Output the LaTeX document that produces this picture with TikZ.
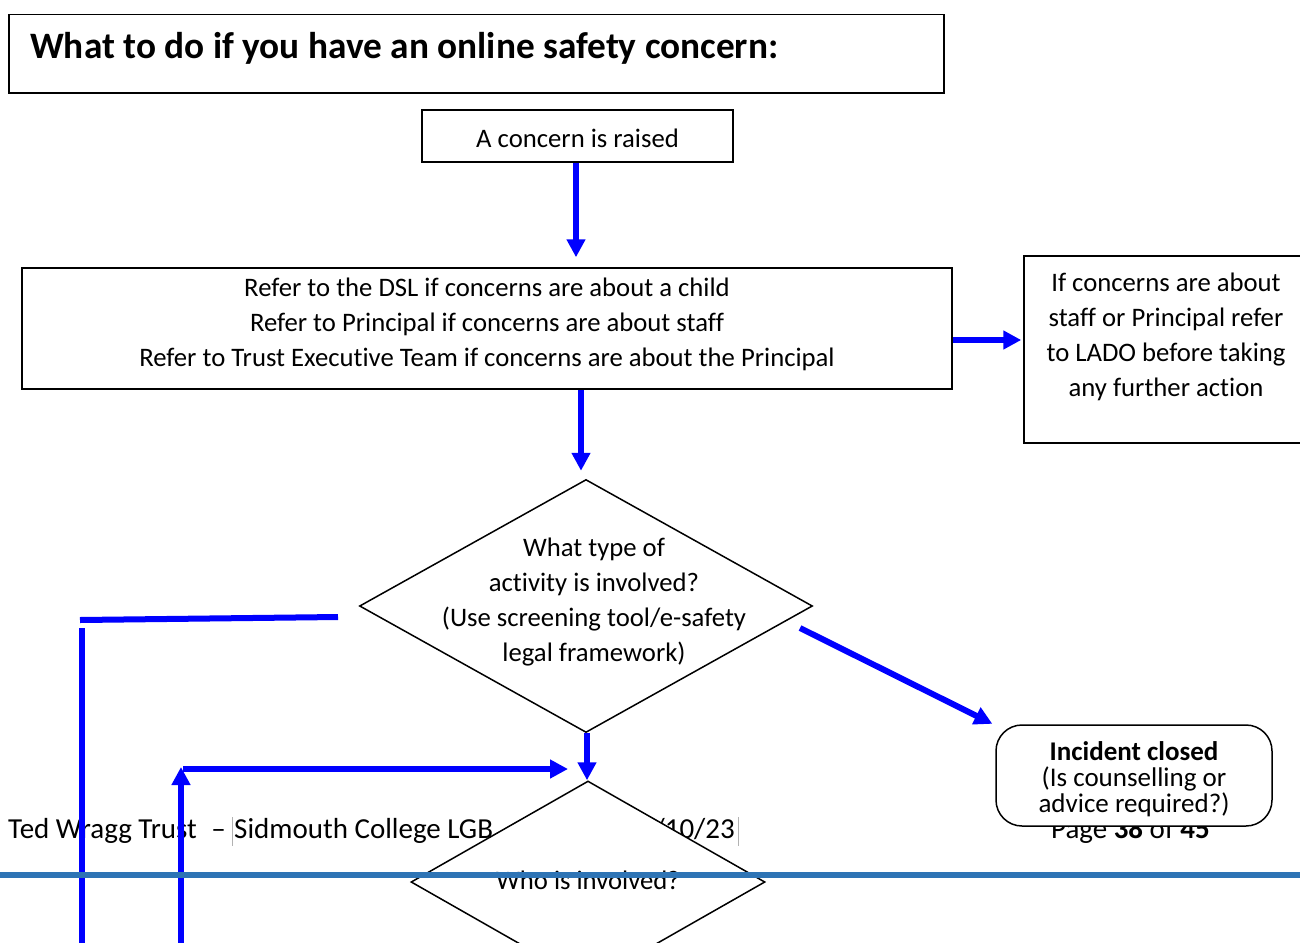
\documentclass[tikz,border=0pt]{standalone}
\usepackage{fontspec}
\setmainfont{Carlito}[Ligatures=NoCommon]
\usetikzlibrary{arrows.meta,shapes.geometric}
\definecolor{footblue}{RGB}{46,116,181}
\begin{document}
\begin{tikzpicture}[x=1pt,y=-1pt,
  box/.style={draw=black,line width=1.5pt,fill=white,inner sep=0pt},
  flow/.style={draw=blue,line width=6pt,-{Triangle[length=18pt,width=18pt]}},
  plainflow/.style={draw=blue,line width=6pt},
  txt/.style={font=\fontsize{26.7}{35}\selectfont,align=center,inner sep=0pt},
  foot/.style={font=\fontsize{29}{34}\selectfont,inner sep=0pt},
  small/.style={font=\fontsize{27}{26}\selectfont,align=center,inner sep=0pt}]
\useasboundingbox (0,0) rectangle (1300,942);
\clip (0,0) rectangle (1300,942);
\fill[white] (0,0) rectangle (1300,942);

% footer text (behind shapes)
\node[foot,anchor=base west] (foot0) at (8,838) {Ted Wragg Trust};
\node[foot,anchor=base east] (footdash) at (226,838) {–};
\node[foot,anchor=base west] (foot1) at (234,838) {Sidmouth College LGB};
\node[foot,anchor=base east] (foot2) at (735,838) {/10/23};
\node[foot,anchor=base east] (foot3) at (1210,838) {Page \textbf{38} of \textbf{45}};
\draw[gray!60,line width=0.6pt] (232,817) -- (232,846);
\draw[gray!60,line width=0.6pt] (738,817) -- (738,846);

% title
\node[box,minimum width=935pt,minimum height=78pt,anchor=north west] (title) at (8,14) {};
\node[anchor=west,inner sep=0pt,font=\bfseries\fontsize{37.3}{40}\selectfont] (titletext) at (30,48) {What to do if you have an online safety concern:};

% boxes
\node[box,minimum width=311pt,minimum height=52pt] (concern) at (577.5,136) {};
\node[txt] (concerntext) at (577.5,138) {A concern is raised};

\node[box,minimum width=930pt,minimum height=121pt] (dsl) at (487,328.5) {};
\node[txt] (dsltext) at (487,324) {Refer to the DSL if concerns are about a child\\Refer to Principal if concerns are about staff\\Refer to Trust Executive Team if concerns are about the Principal};

\node[box,minimum width=286pt,minimum height=187pt] (lado) at (1167,349.5) {};
\node[txt] (ladotext) at (1166,336.5) {If concerns are about\\staff or Principal refer\\to LADO before taking\\any further action};

\node[box,diamond,minimum width=453pt,minimum height=253pt] (q1) at (586,606) {};
\node[txt] (q1text) at (594,602) {What type of\\activity is involved?\\(Use screening tool/e-safety\\legal framework)};

\node[box,rounded corners=26pt,minimum width=276pt,minimum height=101pt] (closed) at (1134,775.5) {};
\node[small] (closedtext) at (1134,779) {\textbf{Incident closed}\\(Is counselling or\\advice required?)};

\node[box,diamond,minimum width=354pt,minimum height=202pt] (q2) at (588,882) {};
\node[txt] (q2text) at (588,880) {Who is involved?};

% connectors
\draw[flow,shorten >=10pt] ([xshift=-1.5pt]concern.south) -- ([xshift=-1.5pt]concern.south |- dsl.north);
\draw[flow,shorten >=2pt] ([yshift=-11.5pt]dsl.east) -- ([yshift=-11.5pt]dsl.east -| lado.west);
\draw[flow,shorten >=8pt] ([xshift=-5pt]q1.north |- dsl.south) -- ([xshift=-5pt]q1.north);
\coordinate (q1out) at (800,628);
\draw[flow,shorten >=1pt] (q1out) -- ([xshift=-2pt]closed.north west);
\draw[flow] ([xshift=1pt]q1.south) -- ([xshift=1pt]q1.south |- q2.north);

\coordinate (lA) at (338,617);
\coordinate (lB) at (80,620);
\coordinate (lC) at (82,628);
\coordinate (lD) at (82,950);
\draw[plainflow] (lA) -- (lB);
\draw[plainflow] (lC) -- (lD);

\coordinate (uA) at (181,950);
\coordinate (uB) at (181,767);
\coordinate (uC) at (183,769);
\coordinate (uD) at (568,769);
\draw[flow] (uA) -- (uB);
\draw[flow] (uC) -- (uD);

% footer rule
\coordinate (fl) at (0,875);
\coordinate (fr) at (1300,875);
\draw[footblue,line width=6pt] (fl) -- (fr);
\end{tikzpicture}
\end{document}
